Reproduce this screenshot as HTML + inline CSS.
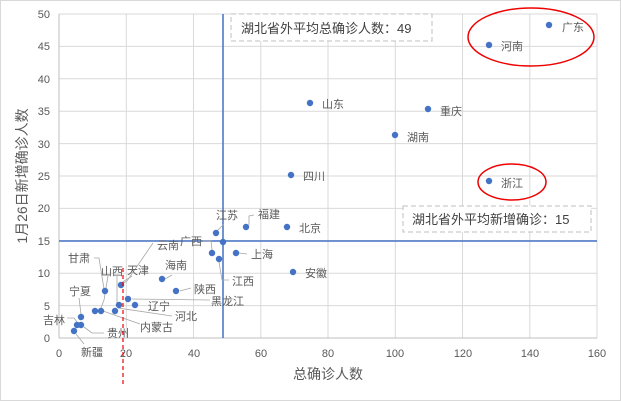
<!DOCTYPE html>
<html><head><meta charset="utf-8"><style>
body{margin:0;background:#fff}
svg{display:block;font-family:"Liberation Sans","Noto Sans CJK SC",sans-serif}
</style></head><body>
<svg width="621" height="401" viewBox="0 0 621 401">
<rect x="0.5" y="0.5" width="620" height="400" fill="#fff" stroke="#d9d9d9"/>
<g stroke="#d9d9d9" stroke-width="1">
<line x1="59" y1="14" x2="597" y2="14"/><line x1="59" y1="46.4" x2="597" y2="46.4"/><line x1="59" y1="78.8" x2="597" y2="78.8"/><line x1="59" y1="111.2" x2="597" y2="111.2"/><line x1="59" y1="143.6" x2="597" y2="143.6"/><line x1="59" y1="176" x2="597" y2="176"/><line x1="59" y1="208.4" x2="597" y2="208.4"/><line x1="59" y1="240.8" x2="597" y2="240.8"/><line x1="59" y1="273.2" x2="597" y2="273.2"/><line x1="59" y1="305.6" x2="597" y2="305.6"/>
<line x1="126.3" y1="14" x2="126.3" y2="338"/><line x1="193.5" y1="14" x2="193.5" y2="338"/><line x1="260.8" y1="14" x2="260.8" y2="338"/><line x1="328" y1="14" x2="328" y2="338"/><line x1="395.3" y1="14" x2="395.3" y2="338"/><line x1="462.5" y1="14" x2="462.5" y2="338"/><line x1="529.8" y1="14" x2="529.8" y2="338"/><line x1="597" y1="14" x2="597" y2="338"/>
</g>
<line x1="59" y1="338" x2="597" y2="338" stroke="#bfbfbf"/>
<line x1="59" y1="14" x2="59" y2="338" stroke="#bfbfbf"/>
<line x1="223" y1="14" x2="223" y2="338" stroke="#4472c4" stroke-width="1.5"/>
<line x1="59" y1="241" x2="597" y2="241" stroke="#4472c4" stroke-width="1.5"/>
<g font-size="11" fill="#595959" text-anchor="end">
<text x="50" y="18">50</text><text x="50" y="50">45</text><text x="50" y="83">40</text><text x="50" y="115">35</text><text x="50" y="148">30</text><text x="50" y="180">25</text><text x="50" y="212">20</text><text x="50" y="245">15</text><text x="50" y="277">10</text><text x="50" y="310">5</text><text x="50" y="342">0</text>
</g>
<g font-size="11" fill="#595959" text-anchor="middle">
<text x="59" y="357">0</text><text x="126" y="357">20</text><text x="194" y="357">40</text><text x="261" y="357">60</text><text x="328" y="357">80</text><text x="395" y="357">100</text><text x="463" y="357">120</text><text x="530" y="357">140</text><text x="597" y="357">160</text>
</g>
<text x="328" y="379" font-size="14" fill="#595959" text-anchor="middle">总确诊人数</text>
<text transform="translate(27,176) rotate(-90)" font-size="14" fill="#595959" text-anchor="middle">1月26日新增确诊人数</text>
<g stroke="#a6a6a6" fill="none" stroke-width="0.8">
<polyline points="94,258 99,258 104,289"/>
<polyline points="108,276 104,300 101,308"/>
<polyline points="117,276 117,303 119,303"/>
<polyline points="121,283 132,276"/>
<polyline points="153,243 127,281 122,284"/>
<polyline points="203,241 211,241 212,250"/>
<polyline points="165,279 172,275"/>
<polyline points="180,291 191,288"/>
<polyline points="132,299 210,300"/>
<polyline points="103,311 140,324"/>
<polyline points="118,308 172,316"/>
<polyline points="219,262 222,280 229,280"/>
<polyline points="239,253 247,254"/>
<polyline points="81,314 79,298"/>
<polyline points="67,318 74,318 77,322"/>
<polyline points="84,327 92,333 104,333"/>
<polyline points="76,334 84,344"/>
<polyline points="217,231 224,224"/>
<polyline points="249,225 249,216 254,215"/>
</g>
<g fill="#4472c4">
<circle cx="549" cy="25" r="3.2"/><circle cx="489" cy="45" r="3.2"/><circle cx="310" cy="103" r="3.2"/><circle cx="428" cy="109" r="3.2"/><circle cx="395" cy="135" r="3.2"/><circle cx="291" cy="175" r="3.2"/><circle cx="489" cy="181" r="3.2"/><circle cx="216" cy="233" r="3.2"/><circle cx="246" cy="227" r="3.2"/><circle cx="287" cy="227" r="3.2"/><circle cx="212" cy="253" r="3.2"/><circle cx="223" cy="242" r="3.2"/><circle cx="236" cy="253" r="3.2"/><circle cx="219" cy="259" r="3.2"/><circle cx="293" cy="272" r="3.2"/><circle cx="162" cy="279" r="3.2"/><circle cx="176" cy="291" r="3.2"/><circle cx="128" cy="299" r="3.2"/><circle cx="135" cy="305" r="3.2"/><circle cx="121" cy="285" r="3.2"/><circle cx="105" cy="291" r="3.2"/><circle cx="95" cy="311" r="3.2"/><circle cx="101" cy="311" r="3.2"/><circle cx="115" cy="311" r="3.2"/><circle cx="119" cy="305" r="3.2"/><circle cx="81" cy="317" r="3.2"/><circle cx="77" cy="325" r="3.2"/><circle cx="81" cy="325" r="3.2"/><circle cx="74" cy="331" r="3.2"/>
</g>
<g font-size="11" fill="#595959">
<text x="562" y="31">广东</text><text x="501" y="50">河南</text><text x="322" y="108">山东</text><text x="440" y="115">重庆</text><text x="407" y="141">湖南</text><text x="303" y="180">四川</text><text x="501" y="187">浙江</text>
<text x="216" y="219">江苏</text><text x="258" y="218">福建</text><text x="299" y="232">北京</text>
<text x="157" y="249">云南</text><text x="180" y="245">广西</text><text x="251" y="258">上海</text><text x="232" y="285">江西</text><text x="305" y="277">安徽</text>
<text x="165" y="269">海南</text><text x="194" y="293">陕西</text><text x="211" y="305">黑龙江</text><text x="148" y="310">辽宁</text><text x="175" y="320">河北</text><text x="140" y="331">内蒙古</text>
<text x="127" y="274">天津</text><text x="101" y="275">山西</text><text x="68" y="262">甘肃</text><text x="69" y="295">宁夏</text><text x="43" y="324">吉林</text><text x="107" y="337">贵州</text><text x="81" y="356">新疆</text>
</g>
<rect x="231" y="14" width="201" height="27" fill="#fff" stroke="#bfbfbf" stroke-dasharray="5,3"/>
<text x="241" y="33" font-size="13" fill="#404040">湖北省外平均总确诊人数：49</text>
<rect x="403" y="206" width="188" height="26" fill="#fff" stroke="#bfbfbf" stroke-dasharray="5,3"/>
<text x="412" y="224" font-size="13" fill="#404040">湖北省外平均新增确诊：15</text>
<ellipse cx="531" cy="37" rx="63" ry="29" fill="none" stroke="#e00" stroke-width="1.5"/>
<ellipse cx="512" cy="182" rx="34" ry="18" fill="none" stroke="#e00" stroke-width="1.5"/>
<line x1="123" y1="268" x2="123" y2="386" stroke="#e00" stroke-width="1.2" stroke-dasharray="4,3"/>
</svg>
</body></html>
